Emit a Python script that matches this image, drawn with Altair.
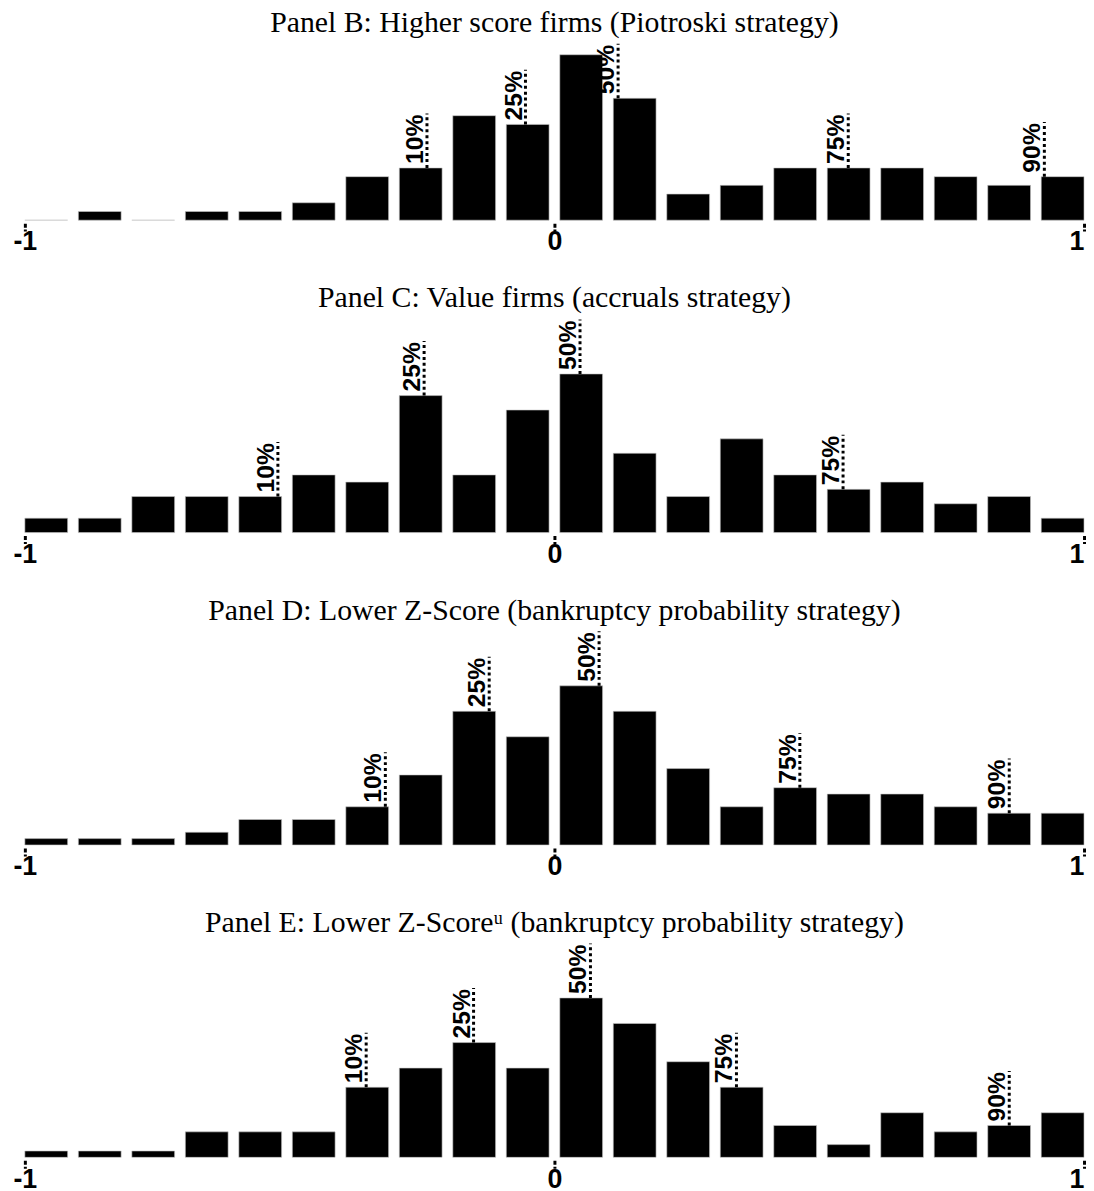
import altair as alt
import pandas as pd
import math

# ---- data ----
bins = list(range(20))  # 20 bins of width 0.1 from -1 to 1

titles = [
    "Panel B: Higher score firms (Piotroski strategy)",
    "Panel C: Value firms (accruals strategy)",
    "Panel D: Lower Z-Score (bankruptcy probability strategy)",
    "Panel E: Lower Z-Score\u1d58 (bankruptcy probability strategy)",
]

counts_b = [0, 1, 0, 1, 1, 2, 5, 6, 12, 11, 19, 14, 3, 4, 6, 6, 6, 5, 4, 5]
counts_c = [2, 2, 5, 5, 5, 8, 7, 19, 8, 17, 22, 11, 5, 13, 8, 6, 7, 4, 5, 2]
counts_d = [1, 1, 1, 2, 4, 4, 6, 11, 21, 17, 25, 21, 12, 6, 9, 8, 8, 6, 5, 5]
counts_e = [1, 1, 1, 4, 4, 4, 11, 14, 18, 14, 25, 21, 15, 11, 5, 2, 7, 4, 5, 7]

pct_labels_b = ["10%", "25%", "50%", "75%", "90%"]
pct_pos_b = [-0.2407, -0.0547, 0.1202, 0.5548, 0.9251]
pct_labels_c = ["10%", "25%", "50%", "75%"]
pct_pos_c = [-0.5222, -0.2461, 0.0483, 0.5450]
pct_labels_d = ["10%", "25%", "50%", "75%", "90%"]
pct_pos_d = [-0.3193, -0.1232, 0.0843, 0.4634, 0.8588]
pct_labels_e = ["10%", "25%", "50%", "75%", "90%"]
pct_pos_e = [-0.3555, -0.1527, 0.0680, 0.3437, 0.8588]

tick_values = [-1, 0, 1]

# ---- layout / style ----
W = 1068
heights = [178, 220, 220, 220]
ymaxes = [20.27, 30.26, 34.27, 34.21]
title_offsets = [-20, -23, -23, -23]
PAD_INNER = 0.2


def bar_index(v):
    step = 2.0 / (len(bins) - PAD_INNER)
    return max(0, min(len(bins) - 1, int(math.floor((v + 1.0) / step))))


def panel(title, counts, pct_labels, pct_pos, height, ymax, toff):
    bar_df = pd.DataFrame({"bin": bins, "count": counts})
    pct_df = pd.DataFrame({
        "pos": pct_pos,
        "label": pct_labels,
        "height": [counts[bar_index(v)] for v in pct_pos],
    })
    yscale = alt.Scale(domain=[0, ymax], nice=False, zero=True)
    xscale = alt.Scale(domain=[-1, 1], nice=False, zero=False)

    bars = alt.Chart(bar_df).mark_bar(
        color="black", stroke="#c8c8c8", strokeWidth=0.6
    ).encode(
        x=alt.X("bin:O", axis=None,
                scale=alt.Scale(paddingInner=PAD_INNER, paddingOuter=0)),
        y=alt.Y("count:Q", axis=None, scale=yscale),
    )

    xaxis = alt.Axis(
        values=tick_values, title=None, grid=False, domain=False,
        ticks=True, tickSize=8, tickWidth=3, tickColor="black",
        tickDash=[4, 2], offset=3, labelPadding=-2,
        labelFlush=False, labelOverlap=False,
        labelExpr="toString(datum.value)",
        labelAlign=alt.ExprRef(expr="datum.value > 0 ? 'right' : 'center'"),
        labelFont="Liberation Sans", labelFontWeight="bold",
        labelFontSize=27, labelColor="black",
    )

    rules = alt.Chart(pct_df).mark_rule(
        color="black", strokeWidth=3, strokeDash=[3, 3], y2Offset=-55
    ).encode(
        x=alt.X("pos:Q", scale=xscale, axis=xaxis),
        y=alt.Y("height:Q", axis=None, scale=yscale),
        y2="height:Q",
    )

    labels = alt.Chart(pct_df).mark_text(
        angle=270, align="left", baseline="alphabetic", dx=4, dy=-4,
        font="Liberation Sans", fontWeight="bold", fontSize=25, color="black",
    ).encode(
        x=alt.X("pos:Q", scale=xscale, axis=None),
        y=alt.Y("height:Q", scale=yscale, axis=None),
        text="label:N",
    )

    return alt.layer(bars, rules, labels).resolve_scale(x="independent").properties(
        width=W,
        height=height,
        title=alt.Title(
            title, font="Liberation Serif, DejaVu Serif", fontSize=30,
            fontWeight="normal", color="black", anchor="middle",
            baseline="alphabetic", offset=toff,
        ),
    )


panels = [
    panel(titles[0], counts_b, pct_labels_b, pct_pos_b, heights[0], ymaxes[0], title_offsets[0]),
    panel(titles[1], counts_c, pct_labels_c, pct_pos_c, heights[1], ymaxes[1], title_offsets[1]),
    panel(titles[2], counts_d, pct_labels_d, pct_pos_d, heights[2], ymaxes[2], title_offsets[2]),
    panel(titles[3], counts_e, pct_labels_e, pct_pos_e, heights[3], ymaxes[3], title_offsets[3]),
]

chart = alt.vconcat(*panels, spacing=29).properties(
    padding={"left": 4, "top": -5, "right": 0, "bottom": 0}
).configure(background="white").configure_view(stroke=None)

chart.save("out.html", embed_options={"renderer": "svg", "actions": False})
